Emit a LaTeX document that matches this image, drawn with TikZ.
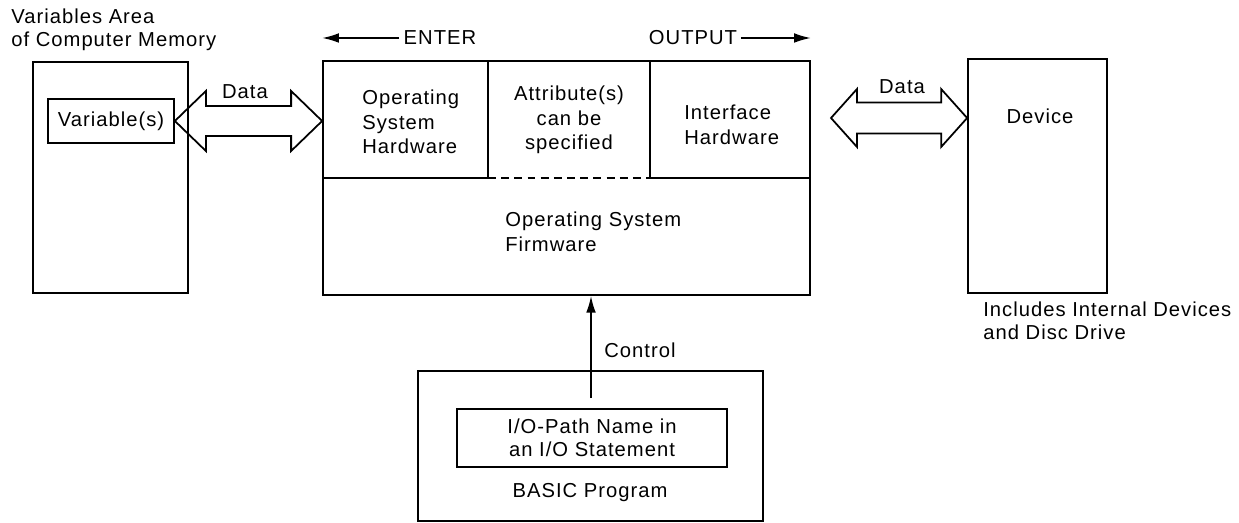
\documentclass[tikz,border=0pt]{standalone}
\usepackage{fontspec}
\setmainfont[LetterSpace=5]{Liberation Sans}
\usetikzlibrary{arrows.meta,calc,fit}

\tikzset{
  box/.style={draw, line width=1pt, inner sep=0pt},
  lbl/.style={font=\fontsize{11.5}{13}\selectfont, inner sep=0pt},
  cell/.style={font=\fontsize{11.5}{14}\selectfont, inner sep=0pt},
  flow/.style={-{Latex[length=9.5pt,width=5.5pt]}, line width=1pt},
  bigarrow/.style={draw, line width=1pt, line join=miter},
}

% doppia freccia vuota: punta sx, punta dx, lunghezza testa, semi-larghezza testa, semi-larghezza corpo
\newcommand{\dataarrow}[5]{%
  \draw[bigarrow] (#1) -- ++(#3,-#4) -- ++(0,#4-#5) -- ($(#2)+(-#3,-#5)$) -- ++(0,#5-#4)
    -- (#2) -- ++(-#3,#4) -- ++(0,#5-#4) -- ($(#1)+(#3,#5)$) -- ++(0,#4-#5) -- cycle;}

\begin{document}
\begin{tikzpicture}[x=0.02cm, y=-0.02cm]
\useasboundingbox (0,0) rectangle (1239,523);

% --- Memoria (sinistra) ---
\node[box, fit={(33,62) (188,293)}] (mem) {};
\node[lbl, align=left, anchor=west] (memlbl) at (11,30) {Variables Area\\of Computer Memory};
\node[box, fit={(48,99) (174,143)}] (var) {};
\node[lbl] (varlbl) at (var.center) {Variable(s)};

% --- Blocco centrale ---
\node[box, fit={(323,61) (810,295)}] (os) {};
\draw[line width=1pt] (323,178) -- (488,178);
\draw[line width=1pt, dash pattern=on 4.5pt off 3pt] (488,178) -- (650,178);
\draw[line width=1pt] (650,178) -- (810,178);
\draw[line width=1pt] (488,61) -- (488,178);
\draw[line width=1pt] (650,61) -- (650,178);

\node[cell, align=left, anchor=west] (oshw) at (362,122) {Operating\\System\\Hardware};
\node[cell, align=center] (attr) at (569,120) {Attribute(s)\\can be\\specified};
\node[cell, align=left, anchor=west] (ifhw) at (684,125) {Interface\\Hardware};
\node[cell, align=left, anchor=west] (osfw) at (505,232) {Operating System\\Firmware};

% Frecce ENTER / OUTPUT
\node[lbl] (enter) at (440,38) {ENTER};
\node[lbl] (output) at (693,38) {OUTPUT};
\draw[flow] ([xshift=-2.5pt]enter.west) -- (enter -| os.west);
\draw[flow] ([xshift=2pt]output.east) -- (output -| os.east);

% --- Dispositivo (destra) ---
\node[box, fit={(968,59) (1107,293)}] (dev) {};
\node[lbl] (devlbl) at (1040,116) {Device};
\node[lbl, align=left, anchor=west] (devnote) at (983,321) {Includes Internal Devices\\and Disc Drive};

% Frecce Data
\coordinate (osin) at (os.west |- var.east);
\dataarrow{var.east}{osin}{31}{30}{15}
\node[lbl] (datal) at (245,92) {Data};

\coordinate (ifout) at (831,118);
\coordinate (devin) at (dev.west |- ifout);
\dataarrow{ifout}{devin}{26}{29}{15.5}
\node[lbl] (datar) at (902,87) {Data};

% --- Programma BASIC ---
\node[box, fit={(418,371) (763,521)}] (basic) {};
\node[box, fit={(457,409) (727,467)}] (iopath) {};
\node[lbl, align=center] (iolbl) at (iopath.center) {I/O-Path Name in\\an I/O Statement};
\node[lbl] (basiclbl) at (590,493) {BASIC Program};

% Freccia Control
\coordinate (ctrl) at (591,398);
\draw[flow] (ctrl) -- (ctrl |- os.south);
\node[lbl, anchor=west] (ctrllbl) at (604,350) {Control};

\end{tikzpicture}
\end{document}
